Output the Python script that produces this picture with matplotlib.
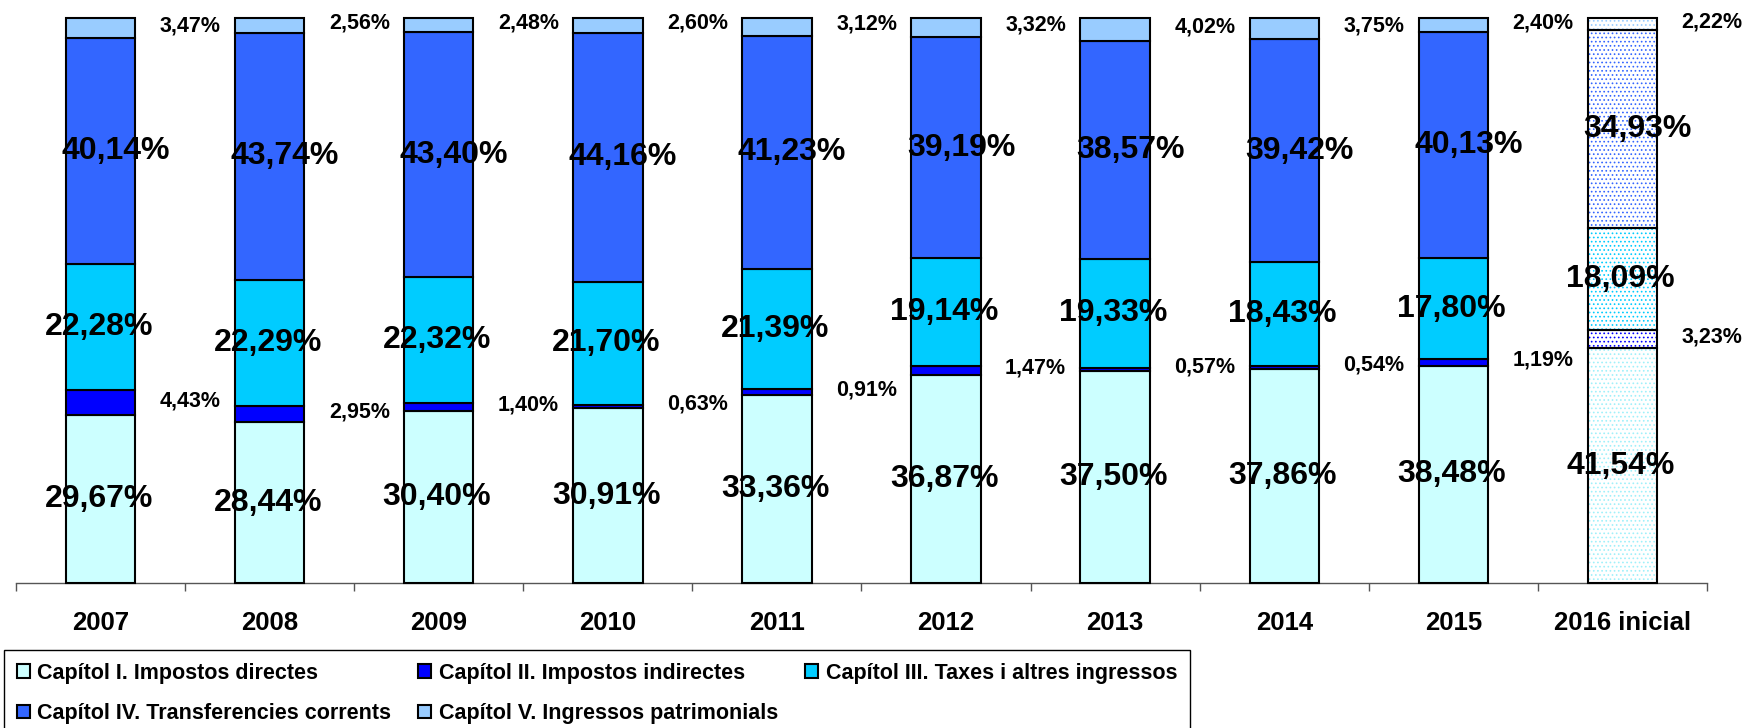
import matplotlib
matplotlib.use('Agg')
import matplotlib.pyplot as plt
import numpy as np

# ---------------- data ----------------
years = ['2007', '2008', '2009', '2010', '2011', '2012', '2013', '2014', '2015', '2016 inicial']
cap1 = [29.67, 28.44, 30.40, 30.91, 33.36, 36.87, 37.50, 37.86, 38.48, 41.54]
cap2 = [4.43, 2.95, 1.40, 0.63, 0.91, 1.47, 0.57, 0.54, 1.19, 3.23]
cap3 = [22.28, 22.29, 22.32, 21.70, 21.39, 19.14, 19.33, 18.43, 17.80, 18.09]
cap4 = [40.14, 43.74, 43.40, 44.16, 41.23, 39.19, 38.57, 39.42, 40.13, 34.93]
cap5 = [3.47, 2.56, 2.48, 2.60, 3.12, 3.32, 4.02, 3.75, 2.40, 2.22]
series_names = ['Capítol I. Impostos directes',
                'Capítol II. Impostos indirectes',
                'Capítol III. Taxes i altres ingressos',
                'Capítol IV. Transferencies corrents',
                'Capítol V. Ingressos patrimonials']

# ---------------- style ----------------
plt.rcParams['font.family'] = ['Liberation Sans', 'DejaVu Sans']
plt.rcParams['hatch.linewidth'] = 0.7
colors = ['#CCFFFF', '#0000FF', '#00CCFF', '#3366FF', '#99CCFF']
hatch_colors = ['#A0F0FA', '#0000FF', '#00CCFF', '#3366FF', '#99CCFF']
big = [True, False, True, True, False]
bar_w = 0.41

fig = plt.figure(figsize=(17.49, 7.28), dpi=100)
ax = fig.add_axes([16 / 1749, 1 - 583 / 728, (1707 - 16) / 1749, (583 - 18) / 728])

x = np.arange(len(years))
series = [cap1, cap2, cap3, cap4, cap5]
bottom = np.zeros(len(years))
containers = []
for i, vals in enumerate(series):
    vals = np.array(vals)
    c = ax.bar(x, vals, bar_w, bottom=bottom, color=colors[i], edgecolor='black',
               linewidth=1.5, zorder=3, clip_on=False)
    # last bar ("2016 inicial") is drawn with a dotted pattern
    p = c.patches[-1]
    p.set_facecolor('white')
    p.set_edgecolor(hatch_colors[i])
    p.set_hatch('....')
    p.set_linewidth(0)
    ax.bar(x[-1:], vals[-1:], bar_w, bottom=bottom[-1:], fill=False,
           edgecolor='black', linewidth=1.5, zorder=4, clip_on=False)
    containers.append(c)
    for j, v in enumerate(vals):
        txt = f"{v:.2f}".replace('.', ',') + '%'
        yc = bottom[j] + v / 2
        if big[i]:
            dx = 0.09 if i == 3 else -0.01
            ax.text(x[j] + dx, yc, txt, ha='center', va='center', fontsize=23,
                    fontweight='bold', zorder=5)
        else:
            ax.text(x[j] + 0.53, yc + 0.4, txt, ha='center', va='center', fontsize=15.5,
                    fontweight='bold', zorder=5)
    bottom = bottom + vals

ax.set_xlim(-0.5, len(years) - 0.5)
ax.set_ylim(0, 100)
for s in ['left', 'right', 'top']:
    ax.spines[s].set_visible(False)
ax.spines['bottom'].set_color('#555555')
ax.spines['bottom'].set_linewidth(1.0)
ax.set_yticks([])
ax.set_xticks(np.arange(-0.5, len(years), 1))
ax.set_xticklabels([])
ax.set_xticks(x, minor=True)
ax.set_xticklabels(years, minor=True, fontsize=18.5, fontweight='bold')
ax.tick_params(axis='x', which='major', length=6, width=1.0, color='#555555', direction='out')
ax.tick_params(axis='x', which='minor', length=0, pad=20)

order = [0, 3, 1, 4, 2]
leg = fig.legend([containers[k] for k in order], [series_names[k] for k in order],
                 ncol=3, loc='upper left',
                 bbox_to_anchor=(4 / 1749, 1 - 650 / 728, 1186 / 1749, 0.0),
                 mode='expand', frameon=True, fancybox=False, edgecolor='black',
                 framealpha=1, borderpad=0.6, labelspacing=0.89,
                 handlelength=0.6, handleheight=0.6, handletextpad=0.35,
                 borderaxespad=0, prop=dict(weight='bold', size=15.5))
leg.get_frame().set_linewidth(1.0)

fig.savefig('out.png', dpi=100)
